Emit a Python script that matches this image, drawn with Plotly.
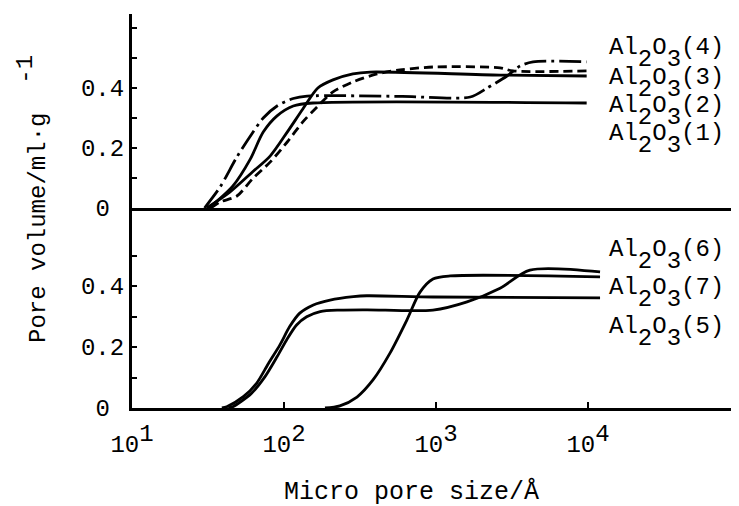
import plotly.graph_objects as go
from plotly.subplots import make_subplots

# ---------------- data (pore size in Å, pore volume in ml/g) ----------------
# top panel
x_al4 = [30, 38, 49, 62, 73, 90, 115, 142, 600, 1680, 2170, 2930, 3570, 4350, 9800]
y_al4 = [0, 0.07, 0.17, 0.25, 0.30, 0.34, 0.365, 0.373, 0.372, 0.37, 0.40, 0.44, 0.473, 0.487, 0.487]

x_al3 = [33, 38, 49, 62, 81, 105, 133, 165, 210, 284, 409, 579, 955, 2640, 3210, 9800]
y_al3 = [0, 0.02, 0.04, 0.097, 0.153, 0.22, 0.287, 0.337, 0.387, 0.42, 0.447, 0.46, 0.47, 0.467, 0.457, 0.457]

x_al2 = [31, 44, 62, 81, 105, 133, 167, 210, 284, 368, 2640, 9800]
y_al2 = [0, 0.053, 0.12, 0.173, 0.253, 0.33, 0.40, 0.427, 0.447, 0.453, 0.443, 0.44]

x_al1 = [32, 46, 60, 73, 90, 115, 155, 9800]
y_al1 = [0, 0.073, 0.163, 0.253, 0.307, 0.34, 0.35, 0.35]

# bottom panel
x_al6 = [43, 46, 61, 75, 90, 104, 121, 141, 173, 233, 350, 955, 1600, 2640, 4150, 12000]
y_al6 = [0, 0.004, 0.048, 0.103, 0.168, 0.223, 0.272, 0.299, 0.316, 0.321, 0.322, 0.321, 0.348, 0.393, 0.452, 0.446]

x_al7 = [186, 233, 302, 385, 498, 644, 785, 955, 1240, 12000]
y_al7 = [0, 0.007, 0.036, 0.092, 0.18, 0.289, 0.38, 0.423, 0.433, 0.43]

x_al5 = [39, 42, 54, 66, 79, 94, 109, 127, 156, 201, 286, 350, 955, 12000]
y_al5 = [0, 0.004, 0.037, 0.081, 0.146, 0.207, 0.267, 0.311, 0.338, 0.354, 0.365, 0.368, 0.364, 0.361]

top_labels = ["(4)", "(3)", "(2)", "(1)"]
bottom_labels = ["(6)", "(7)", "(5)"]
x_tick_vals = [10, 100, 1000, 10000]
x_tick_exp = ["1", "2", "3", "4"]
y_tick_text = ["0\u00a0", "0.2", "0.4"]
x_title = "Micro pore size/Å"
y_title = "Pore volume/ml·g"

FONT = "Courier New, Nimbus Mono PS, FreeMono, Liberation Mono, monospace"
FS = 24

def sub(t):
    return f'<span style="baseline-shift:-0.5em">{t}</span>'

def sup(t, s="0.45em"):
    return f'<span style="baseline-shift:{s}">{t}</span>'

def al_label(tag):
    return "Al" + sub("2") + "O" + sub("3") + tag

fig = make_subplots(rows=2, cols=1, shared_xaxes=True, vertical_spacing=0)

lw = 2.8
sm = 0.8
fig.add_trace(go.Scatter(x=x_al4, y=y_al4, mode="lines", line=dict(color="black", width=lw, dash="22px,5px,3px,5px", shape="spline", smoothing=sm)), row=1, col=1)
fig.add_trace(go.Scatter(x=x_al3, y=y_al3, mode="lines", line=dict(color="black", width=lw, dash="9px,5px", shape="spline", smoothing=sm)), row=1, col=1)
fig.add_trace(go.Scatter(x=x_al2, y=y_al2, mode="lines", line=dict(color="black", width=lw, shape="spline", smoothing=sm)), row=1, col=1)
fig.add_trace(go.Scatter(x=x_al1, y=y_al1, mode="lines", line=dict(color="black", width=lw, shape="spline", smoothing=sm)), row=1, col=1)

fig.add_trace(go.Scatter(x=x_al6, y=y_al6, mode="lines", line=dict(color="black", width=lw, shape="spline", smoothing=sm)), row=2, col=1)
fig.add_trace(go.Scatter(x=x_al7, y=y_al7, mode="lines", line=dict(color="black", width=lw, shape="spline", smoothing=sm)), row=2, col=1)
fig.add_trace(go.Scatter(x=x_al5, y=y_al5, mode="lines", line=dict(color="black", width=lw, shape="spline", smoothing=sm)), row=2, col=1)

# page offset (browser body margin)
OFF = 8
W, H = 739, 506
# plot area in page pixels
PX0, PX1, PY0, PY1 = 132, 739, 14, 408
L = PX0 - OFF
R = W - (PX1 - OFF)
T = PY0 - OFF
B = H - (PY1 - OFF)
plot_w = PX1 - PX0
plot_h = PY1 - PY0
split = 200 / plot_h

xr = [1, 1 + plot_w / 152]
common_x = dict(type="log", range=xr, showline=True, linecolor="black", linewidth=3,
                showgrid=False, zeroline=False, mirror=False)
fig.update_layout(
    xaxis=dict(**common_x, ticks="", showticklabels=False),
    xaxis2=dict(**common_x, ticks="inside", ticklen=6, tickwidth=2, tickcolor="black",
                tickvals=x_tick_vals,
                ticktext=["10" + sup(e) for e in x_tick_exp],
                tickfont=dict(family=FONT, size=FS, color="black"), ticklabelstandoff=12),
    yaxis=dict(domain=[split, 1], range=[0, 194 / 300], showline=True, linecolor="black", linewidth=3,
               showgrid=False, zeroline=False, ticks="inside", ticklen=5, tickwidth=2, tickcolor="black",
               tickvals=[0, 0.1, 0.2, 0.3, 0.4, 0.5, 0.6],
               ticktext=[y_tick_text[0], "", y_tick_text[1], "", y_tick_text[2], "", ""],
               tickfont=dict(family=FONT, size=FS, color="black"), ticklabelstandoff=0),
    yaxis2=dict(domain=[0, split], range=[0, 200 / 305], showline=True, linecolor="black", linewidth=3,
                showgrid=False, zeroline=False, ticks="inside", ticklen=5, tickwidth=2, tickcolor="black",
                tickvals=[0, 0.1, 0.2, 0.3, 0.4, 0.5],
                ticktext=[y_tick_text[0], "", y_tick_text[1], "", y_tick_text[2], ""],
                tickfont=dict(family=FONT, size=FS, color="black"), ticklabelstandoff=0),
    width=W, height=H,
    margin=dict(l=L, r=R, t=T, b=B, pad=0),
    paper_bgcolor="white", plot_bgcolor="white",
    showlegend=False,
    font=dict(family=FONT, size=FS, color="black"),
)

anns = []
def pxp(px):
    return (px - PX0) / plot_w
def pyp(py):
    return (PY1 - py) / plot_h
lx = pxp(607)
for tag, py in zip(top_labels, [54, 83, 111, 139]):
    anns.append(dict(x=lx, y=pyp(py), xref="paper", yref="paper", text=al_label(tag),
                     showarrow=False, xanchor="left", yanchor="middle",
                     font=dict(family=FONT, size=FS, color="black")))
for tag, py in zip(bottom_labels, [256, 293, 332]):
    anns.append(dict(x=lx, y=pyp(py), xref="paper", yref="paper", text=al_label(tag),
                     showarrow=False, xanchor="center" if False else "left", yanchor="middle",
                     font=dict(family=FONT, size=FS, color="black")))
anns.append(dict(x=pxp(411), y=pyp(492), xref="paper", yref="paper", text=x_title,
                 showarrow=False, xanchor="center", yanchor="middle",
                 font=dict(family=FONT, size=25, color="black")))
anns.append(dict(x=pxp(32), y=pyp(199), xref="paper", yref="paper",
                 text=y_title + "\u00a0\u00a0" + sup("-1", "0.55em"), textangle=-90,
                 showarrow=False, xanchor="center", yanchor="middle",
                 font=dict(family=FONT, size=FS, color="black")))
fig.update_layout(annotations=anns)

fig.write_html("out.html")
